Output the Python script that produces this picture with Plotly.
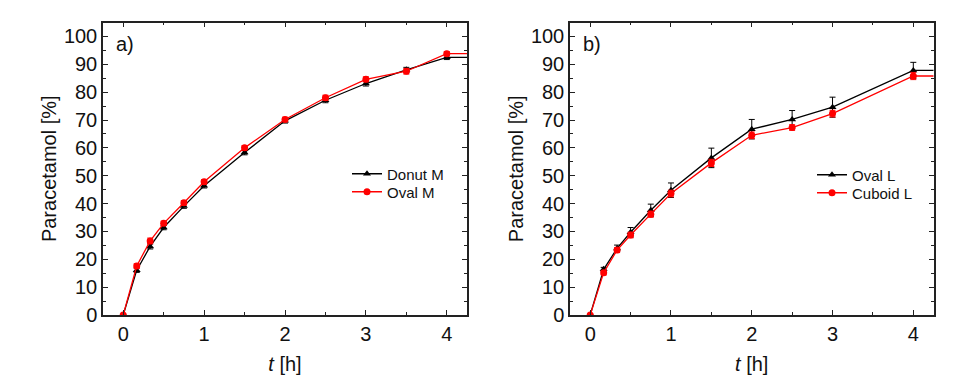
import plotly.graph_objects as go

# ---------------- data ----------------
t_a = [0, 0.167, 0.333, 0.5, 0.75, 1, 1.5, 2, 2.5, 3, 3.5, 4, 4.5]
donut_m = [0, 16.1, 24.6, 31.4, 39.1, 46.4, 58.3, 69.7, 77.1, 83.1, 88.0, 92.5, 92.5]
donut_m_err = [0, 0.8, 0.9, 0.8, 0.8, 0.8, 0.8, 0.8, 0.9, 0.9, 0.9, 0.8, 0.8]
oval_m = [0, 17.6, 26.6, 32.9, 40.3, 47.8, 60.0, 70.2, 78.0, 84.6, 87.5, 93.8, 93.8]
oval_m_err = [0, 0.8, 1.0, 0.8, 0.8, 0.8, 0.8, 0.8, 0.9, 0.9, 1.0, 0.8, 0.8]

t_b = [0, 0.167, 0.333, 0.5, 0.75, 1, 1.5, 2, 2.5, 3, 4, 4.5]
oval_l = [0, 16.4, 23.9, 29.7, 37.6, 44.8, 56.4, 66.7, 70.2, 74.6, 87.8, 87.8]
oval_l_err = [0, 0.7, 1.2, 1.7, 2.2, 2.6, 3.5, 3.5, 3.2, 3.6, 2.9, 2.9]
cuboid_l = [0, 15.2, 23.3, 28.7, 36.2, 43.6, 54.6, 64.5, 67.3, 72.3, 85.8, 85.8]
cuboid_l_err = [0, 0.8, 0.9, 1.0, 1.1, 1.2, 1.3, 1.2, 1.0, 1.2, 1.3, 1.3]

x_ticks = [0, 1, 2, 3, 4]
y_ticks = [0, 10, 20, 30, 40, 50, 60, 70, 80, 90, 100]
panel_labels = ["a)", "b)"]

FONT = "Liberation Sans, Arial, sans-serif"
AX = "#222222"
RED = "#ff0000"
BLK = "#000000"
TXT = "#111111"

fig = go.Figure()


def add(x, y, e, name, color, symbol, xa, ya, leg):
    fig.add_trace(go.Scatter(
        x=x, y=y, name=name, mode="lines+markers",
        line=dict(color=color, width=1.3),
        marker=dict(color=color, symbol=symbol, size=7),
        error_y=dict(type="data", array=e, visible=True, color=color,
                     thickness=1, width=3),
        xaxis=xa, yaxis=ya, legend=leg,
    ))


add(t_a, donut_m, donut_m_err, "Donut M", BLK, "triangle-up", "x", "y", "legend")
add(t_a, oval_m, oval_m_err, "Oval M", RED, "circle", "x", "y", "legend2")
add(t_b, oval_l, oval_l_err, "Oval L", BLK, "triangle-up", "x2", "y2", "legend3")
add(t_b, cuboid_l, cuboid_l_err, "Cuboid L", RED, "circle", "x2", "y2", "legend4")

xcommon = dict(
    range=[-0.25, 4.25], tickvals=x_ticks, ticks="inside", ticklen=5,
    tickwidth=1.2, tickcolor=AX, showline=True, linecolor=AX, linewidth=1.5,
    mirror="ticks", showgrid=False, zeroline=False, automargin=False,
    minor=dict(tickvals=[0.5, 1.5, 2.5, 3.5], ticks="inside", ticklen=3,
               tickcolor=AX, tickwidth=1.2),
    tickfont=dict(family=FONT, size=20, color=TXT),
    title=dict(text="<i>t</i> [h]", font=dict(family=FONT, size=20, color=TXT),
               standoff=13),
)
ycommon = dict(
    range=[0, 105], tickvals=y_ticks, ticks="inside", ticklen=5,
    tickwidth=1.2, tickcolor=AX, showline=True, linecolor=AX, linewidth=1.5,
    mirror="ticks", showgrid=False, zeroline=False, automargin=False,
    minor=dict(tickvals=[5, 15, 25, 35, 45, 55, 65, 75, 85, 95],
               ticks="inside", ticklen=3, tickcolor=AX, tickwidth=1.2),
    tickfont=dict(family=FONT, size=20, color=TXT),
    title=dict(text="Paracetamol [%]", font=dict(family=FONT, size=20, color=TXT),
               standoff=2),
)


def leg(xpx, ypx):
    return dict(x=xpx / 980, y=1 - ypx / 382, xanchor="left", yanchor="middle",
                bgcolor="rgba(0,0,0,0)", font=dict(family=FONT, size=15, color=TXT),
                tracegroupgap=0, itemwidth=30)


y0, y1 = 1 - 315 / 382, 1 - 22.5 / 382
fig.update_layout(
    width=980, height=382,
    margin=dict(l=0, r=0, t=0, b=0, autoexpand=False),
    paper_bgcolor="white", plot_bgcolor="white",
    xaxis=dict(domain=[103 / 980, 467 / 980], anchor="y", **xcommon),
    yaxis=dict(domain=[y0, y1], anchor="x", **ycommon),
    xaxis2=dict(domain=[570 / 980, 933.5 / 980], anchor="y2", **xcommon),
    yaxis2=dict(domain=[y0, y1], anchor="x2", **ycommon),
    legend=leg(347, 174),
    legend2=leg(347, 192),
    legend3=leg(812, 175),
    legend4=leg(812, 193),
    showlegend=True,
)

for i, (xr, yr) in enumerate([("x", "y"), ("x2", "y2")]):
    fig.add_annotation(text=panel_labels[i], xref=xr + " domain", yref=yr + " domain",
                       x=0.03, y=0.97, xanchor="left", yanchor="top", showarrow=False,
                       font=dict(family=FONT, size=20, color=TXT))

fig.write_html("out.html", config={"displayModeBar": False},
               post_script="document.body.style.margin='0';")
